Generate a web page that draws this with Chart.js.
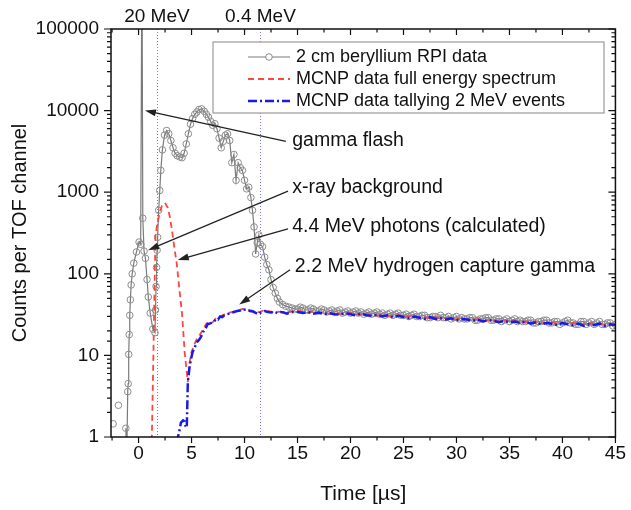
<!DOCTYPE html>
<html>
<head>
<meta charset="utf-8">
<script src="https://cdn.jsdelivr.net/npm/chart.js@4.4.0/dist/chart.umd.min.js"></script>
<style>
  body { margin: 0; background: #fff; }
  #c { display: block; }
</style>
</head>
<body>
<canvas id="c" width="631" height="510"></canvas>
<script>
// tail of the MCNP spectra, time grid (µs)
const tailTime = [
  15, 15.5, 16, 16.5, 17, 17.5, 18, 18.5, 19, 19.5,
  20, 20.5, 21, 21.5, 22, 22.5, 23, 23.5, 24, 24.5,
  25, 25.5, 26, 26.5, 27, 27.5, 28, 28.5, 29, 29.5,
  30, 30.5, 31, 31.5, 32, 32.5, 33, 33.5, 34, 34.5,
  35, 35.5, 36, 36.5, 37, 37.5, 38, 38.5, 39, 39.5,
  40, 40.5, 41, 41.5, 42, 42.5, 43, 43.5, 44, 44.5,
  45
];

// 2 cm beryllium RPI data
const beEarlyTime = [
  -2.4, -2.15, -1.9, -1.55, -1.2, -1.12, -1.02, -0.98, -0.93, -0.88,
  -0.83, -0.77, -0.7, -0.6, -0.45, -0.2, 0.05, 0.2, 0.32, 0.4,
  0.52, 0.65, 0.8, 0.92, 1.1, 1.35, 1.55, 1.6, 1.65, 1.7,
  1.75, 1.8, 1.9, 2.0, 2.1, 2.25, 2.45, 2.65, 2.85, 3.05,
  3.25, 3.45, 3.65, 3.9, 4.1, 4.3, 4.5, 4.7, 4.9, 5.1,
  5.3, 5.5, 5.7, 5.95, 6.2, 6.4, 6.6, 6.8, 7.0, 7.2,
  7.4, 7.6, 7.8, 8.0, 8.2, 8.4, 8.6, 8.8, 9.0, 9.2,
  9.4, 9.6, 9.8, 10.0, 10.2, 10.4, 10.6, 10.75, 10.9, 11.05,
  11.2, 11.35, 11.5, 11.7, 11.9, 12.1, 12.3, 12.5, 12.7, 12.9,
  13.1, 13.3, 13.6, 13.9, 14.2, 14.5, 14.8
];
const beEarlyCounts = [
  1.45, null, 2.45, null, 1.28, 0.5, 3.6, 4.5, 10.3, 18,
  31, 48, 73, 100, 135, 185, 245, 230, 1000000, 480,
  190, 155, 85, 52, 33, 21, 19, 36, 70, 120,
  195, 280, 600, 1050, 1850, 3300, 5000, 5700, 5200, 4300,
  3500, 3000, 2800, 2700, 2650, 3000, 3900, 5200, 6800, 8000,
  9000, 9600, 10300, 10500, 9800, 9000, 8300, 7400, 6600, 6900,
  6000, 4600, 3500, 4200, 5000, 5200, 4300, 2300, 2900, 1400,
  2300, 2000, 1850, 1400, 1100, 1150, 860, 600, 375, 175,
  240, 300, 230, 215, 160, 130, 112, 85, 68, 58,
  50, 45, 42, 40, 39, 38, 37
];
const beTailTime = [
  15, 15.25, 15.5, 15.75, 16, 16.25, 16.5, 16.75, 17, 17.25,
  17.5, 17.75, 18, 18.25, 18.5, 18.75, 19, 19.25, 19.5, 19.75,
  20, 20.25, 20.5, 20.75, 21, 21.25, 21.5, 21.75, 22, 22.25,
  22.5, 22.75, 23, 23.25, 23.5, 23.75, 24, 24.25, 24.5, 24.75,
  25, 25.25, 25.5, 25.75, 26, 26.25, 26.5, 26.75, 27, 27.25,
  27.5, 27.75, 28, 28.25, 28.5, 28.75, 29, 29.25, 29.5, 29.75,
  30, 30.25, 30.5, 30.75, 31, 31.25, 31.5, 31.75, 32, 32.25,
  32.5, 32.75, 33, 33.25, 33.5, 33.75, 34, 34.25, 34.5, 34.75,
  35, 35.25, 35.5, 35.75, 36, 36.25, 36.5, 36.75, 37, 37.25,
  37.5, 37.75, 38, 38.25, 38.5, 38.75, 39, 39.25, 39.5, 39.75,
  40, 40.25, 40.5, 40.75, 41, 41.25, 41.5, 41.75, 42, 42.25,
  42.5, 42.75, 43, 43.25, 43.5, 43.75, 44, 44.25, 44.5, 44.75,
  45
];
const beTailCounts = [
  37, 39, 38, 36, 36, 38, 37, 35, 35, 37,
  36, 34, 35, 36, 34, 35, 36, 33, 34, 35,
  33, 34, 35, 33, 34, 32, 33, 34, 32, 33,
  34, 32, 33, 31, 32, 33, 31, 32, 33, 31,
  31, 32, 30, 31, 32, 30, 30, 31, 31, 29,
  29, 30, 30, 29, 31, 29, 29, 30, 28, 29,
  30, 28, 29, 28, 28, 29, 29, 27, 27, 28,
  28, 29, 29, 27, 27, 28, 28, 26, 27, 28,
  26, 27, 28, 26, 27, 26, 26, 27, 27, 25,
  25, 26, 26, 27, 27, 25, 25, 26, 26, 24,
  25, 26, 27, 25, 25, 24, 24, 26, 26, 24,
  25, 26, 24, 25, 26, 24, 24, 25, 25, 23,
  24
];

// MCNP data full energy spectrum
const fullEarlyTime = [
  1.25, 1.4, 1.5, 1.6, 1.8, 2.0, 2.2, 2.5, 2.75, 2.95,
  3.15, 3.4, 3.6, 3.85, 4.1, 4.35, 4.65, 4.8, 5.0, 5.2,
  5.5, 5.8, 6.1, 6.4, 6.7, 7.0, 7.3, 7.6, 7.9, 8.2,
  8.6, 9.0, 9.4, 9.8, 10.2, 10.6, 11.0, 11.4, 11.8, 12.2,
  12.6, 13.0, 13.5, 14.0, 14.5
];
const fullEarlyCounts = [
  0.9, 10, 60, 300, 430, 560, 680, 740, 650, 500,
  345, 200, 135, 65, 33, 11, 4.7, 8, 11, 13,
  16, 18, 21, 24.5, 26, 25.5, 28.5, 29, 31, 32,
  33.5, 34.5, 35.5, 37, 36.5, 35.5, 34.5, 34, 35.5, 35,
  34, 34.5, 34, 33.5, 34.5
];
const fullTailCounts = [
  35, 34, 33.5, 34.5, 33, 33.5, 32.5, 33.5, 32, 32.5,
  33, 31.5, 32, 32.5, 31, 30.5, 31.5, 30.5, 30, 31,
  29.5, 30, 30.5, 29, 29.5, 28.5, 29.5, 28, 29, 28,
  27.5, 28.5, 27.5, 27, 28, 26.5, 27, 26.5, 26, 27,
  25.5, 26.5, 25.5, 26, 25, 26, 25, 24.5, 25.5, 24.5,
  25, 24, 25, 24.5, 24, 25, 24, 24.5, 23.5, 24.5,
  24
];

// MCNP data tallying 2 MeV events
const tallyEarlyTime = [
  3.55, 3.8, 4.0, 4.2, 4.35, 4.45, 4.55, 4.65, 4.8, 4.95,
  5.1, 5.3, 5.5, 5.7, 5.9, 6.1, 6.3, 6.5, 6.7, 6.9,
  7.1, 7.3, 7.5, 7.7, 7.9, 8.1, 8.4, 8.7, 9.0, 9.3,
  9.6, 9.9, 10.2, 10.5, 10.8, 11.1, 11.3, 11.6, 11.9, 12.2,
  12.5, 12.8, 13.1, 13.4, 13.7, 14.0, 14.5
];
const tallyEarlyCounts = [
  0.85, 1.1, 1.5, 1.6, 1.55, 1.35, 1.3, 4.7, 7, 9,
  11, 12.5, 14.5, 15.5, 17, 19.5, 21, 24, 24.5, 25,
  25.5, 28, 27.5, 30, 29.5, 31, 32, 33, 34, 35,
  35.5, 36.5, 36, 35, 34.5, 33, 32, 34, 35, 34,
  33.5, 34.5, 33, 34, 33.5, 32.5, 34
];
const tallyTailCounts = [
  34, 33, 34, 32.5, 33.5, 32, 33, 32, 31.5, 33,
  32, 31, 32.5, 31, 30.5, 31.5, 30, 31, 29.5, 30.5,
  29.5, 28.5, 30, 29, 28, 29.5, 28, 28.5, 27.5, 28.5,
  27, 28, 27.5, 26.5, 27.5, 26, 27, 26.5, 25.5, 26.5,
  25.5, 26, 25, 26, 24.5, 25.5, 24, 25, 24.5, 23.5,
  25, 24, 23.5, 24.5, 23, 24, 23.5, 24.5, 23, 24,
  23.5
];

const seriesNames = [
  '2 cm beryllium RPI data',
  'MCNP data full energy spectrum',
  'MCNP data tallying 2 MeV events'
];

// energy markers on the time axis (µs)
const energyLines = [1.73, 11.5];
const energyLabels = ['20 MeV', '0.4 MeV'];

// arrow annotations, anchors in data units
const notes = [
  { text: 'gamma flash',                    tx: 14.5, ty: 4300, from: [13.9, 4200], to: [0.6, 10000] },
  { text: 'x-ray background',               tx: 14.5, ty: 1150, from: [14.1, 1030], to: [0.9, 195] },
  { text: '4.4 MeV photons (calculated)',   tx: 14.5, ty: 374,  from: [14.1, 355],  to: [3.7, 148] },
  { text: '2.2 MeV hydrogen capture gamma', tx: 14.75, ty: 122, from: [14.3, 112],  to: [9.5, 42] }
];

const FONT = "'Liberation Sans', Arial, Helvetica, sans-serif";
const GRAY = '#7a7a7a';
const RED = 'rgb(255,70,60)';
const BLUE = 'rgb(25,25,235)';

function pts(t, c) {
  return t.map((x, i) => ({ x: x, y: c[i] }));
}

function isDecade(v) {
  const e = Math.round(Math.log10(v));
  return Math.abs(v - Math.pow(10, e)) < 1e-6 * v;
}

const decor = {
  id: 'decor',
  beforeDatasetsDraw(chart) {
    const ctx = chart.ctx, ca = chart.chartArea, xs = chart.scales.x;
    ctx.save();
    ctx.strokeStyle = 'rgb(120,120,255)';
    ctx.lineWidth = 1;
    ctx.setLineDash([1, 2]);
    energyLines.forEach(v => {
      const px = Math.round(xs.getPixelForValue(v)) + 0.5;
      ctx.beginPath();
      ctx.moveTo(px, ca.top);
      ctx.lineTo(px, ca.bottom);
      ctx.stroke();
    });
    ctx.restore();
  },
  afterDraw(chart) {
    const ctx = chart.ctx, ca = chart.chartArea;
    const xs = chart.scales.x, ys = chart.scales.y;
    ctx.save();

    // frame
    ctx.strokeStyle = '#111';
    ctx.lineWidth = 1.5;
    ctx.strokeRect(ca.left, ca.top, ca.right - ca.left, ca.bottom - ca.top);

    // ticks: bottom/left outward, top/right inward
    ctx.lineWidth = 1.2;
    ctx.beginPath();
    xs.ticks.forEach(t => {
      const px = xs.getPixelForValue(t.value);
      const len = Math.abs(t.value % 5) < 1e-6 ? 6 : 3.5;
      ctx.moveTo(px, ca.bottom); ctx.lineTo(px, ca.bottom + len);
      ctx.moveTo(px, ca.top); ctx.lineTo(px, ca.top + len);
    });
    ys.ticks.forEach(t => {
      const py = ys.getPixelForValue(t.value);
      const len = isDecade(t.value) ? 7 : 4;
      ctx.moveTo(ca.left, py); ctx.lineTo(ca.left - len, py);
      ctx.moveTo(ca.right, py); ctx.lineTo(ca.right - len, py);
    });
    ctx.stroke();

    // energy labels above the plot
    ctx.fillStyle = '#111';
    ctx.font = '19px ' + FONT;
    ctx.textAlign = 'center';
    ctx.textBaseline = 'middle';
    energyLines.forEach((v, i) => {
      ctx.fillText(energyLabels[i], xs.getPixelForValue(v), ca.top - 12);
    });

    // arrows and notes
    ctx.textAlign = 'left';
    ctx.font = '19.5px ' + FONT;
    ctx.strokeStyle = '#222';
    ctx.fillStyle = '#222';
    ctx.lineWidth = 1.3;
    notes.forEach(n => {
      const x0 = xs.getPixelForValue(n.from[0]), y0 = ys.getPixelForValue(n.from[1]);
      const x1 = xs.getPixelForValue(n.to[0]), y1 = ys.getPixelForValue(n.to[1]);
      const a = Math.atan2(y1 - y0, x1 - x0);
      const hl = 11, hw = 3.5;
      ctx.beginPath();
      ctx.moveTo(x0, y0);
      ctx.lineTo(x1 - Math.cos(a) * hl * 0.8, y1 - Math.sin(a) * hl * 0.8);
      ctx.stroke();
      ctx.beginPath();
      ctx.moveTo(x1, y1);
      ctx.lineTo(x1 - Math.cos(a) * hl - Math.sin(a) * hw, y1 - Math.sin(a) * hl + Math.cos(a) * hw);
      ctx.lineTo(x1 - Math.cos(a) * hl + Math.sin(a) * hw, y1 - Math.sin(a) * hl - Math.cos(a) * hw);
      ctx.closePath();
      ctx.fill();
      ctx.fillStyle = '#111';
      ctx.fillText(n.text, xs.getPixelForValue(n.tx), ys.getPixelForValue(n.ty));
      ctx.fillStyle = '#222';
    });

    // legend box
    const bx = ca.left + 102, by = ca.top + 13, bw = 391, bh = 71;
    ctx.fillStyle = '#fff';
    ctx.fillRect(bx, by, bw, bh);
    ctx.strokeStyle = '#9a9a9a';
    ctx.lineWidth = 1.2;
    ctx.strokeRect(bx, by, bw, bh);
    const sx0 = bx + 35, sx1 = bx + 77;
    ctx.font = '18px ' + FONT;
    ctx.textBaseline = 'middle';
    chart.data.datasets.forEach((ds, i) => {
      const ry = by + 15 + i * 22;
      ctx.save();
      ctx.strokeStyle = ds.borderColor;
      ctx.lineWidth = ds.borderWidth;
      ctx.setLineDash(ds.borderDash || []);
      ctx.beginPath();
      ctx.moveTo(sx0, ry);
      ctx.lineTo(sx1, ry);
      ctx.stroke();
      if (ds.pointRadius > 0) {
        ctx.setLineDash([]);
        ctx.fillStyle = '#fff';
        ctx.strokeStyle = ds.pointBorderColor;
        ctx.lineWidth = 1;
        ctx.beginPath();
        ctx.arc((sx0 + sx1) / 2, ry, ds.pointRadius, 0, Math.PI * 2);
        ctx.fill();
        ctx.stroke();
      }
      ctx.restore();
      ctx.fillStyle = '#111';
      ctx.fillText(ds.label, bx + 83, ry);
    });

    ctx.restore();
  }
};

new Chart(document.getElementById('c'), {
  type: 'line',
  data: {
    datasets: [
      {
        label: seriesNames[0],
        data: pts(beEarlyTime.concat(beTailTime), beEarlyCounts.concat(beTailCounts)),
        borderColor: GRAY,
        borderWidth: 1.2,
        pointRadius: 3.3,
        pointBorderColor: '#8c8c8c',
        pointBackgroundColor: 'rgba(255,255,255,0)',
        pointBorderWidth: 1,
        tension: 0,
        order: 3
      },
      {
        label: seriesNames[1],
        data: pts(fullEarlyTime.concat(tailTime), fullEarlyCounts.concat(fullTailCounts)),
        borderColor: RED,
        borderWidth: 1.8,
        borderDash: [6, 4],
        pointRadius: 0,
        tension: 0,
        order: 2
      },
      {
        label: seriesNames[2],
        data: pts(tallyEarlyTime.concat(tailTime), tallyEarlyCounts.concat(tallyTailCounts)),
        borderColor: BLUE,
        borderWidth: 2.5,
        borderDash: [9, 3, 2, 3],
        pointRadius: 0,
        tension: 0,
        order: 1
      }
    ]
  },
  options: {
    responsive: false,
    animation: false,
    devicePixelRatio: 1,
    spanGaps: false,
    layout: { padding: { top: 29, right: 11, left: 0, bottom: 0 } },
    plugins: {
      legend: { display: false },
      tooltip: { enabled: false }
    },
    scales: {
      x: {
        type: 'linear',
        min: -2.6,
        max: 45,
        afterFit: s => { s.height = 73; },
        grid: { display: false, drawTicks: false },
        border: { display: false },
        ticks: {
          stepSize: 2.5,
          includeBounds: false,
          autoSkip: false,
          maxRotation: 0,
          padding: 5,
          color: '#111',
          font: { family: FONT, size: 19 },
          callback: v => (Math.abs(v % 5) < 1e-6 ? String(v) : '')
        },
        title: {
          display: true,
          text: 'Time [µs]',
          color: '#111',
          font: { family: FONT, size: 21 },
          padding: { top: 0, bottom: 3 }
        }
      },
      y: {
        type: 'logarithmic',
        min: 1,
        max: 100000,
        afterFit: s => { s.width = 111; },
        grid: { display: false, drawTicks: false },
        border: { display: false },
        ticks: {
          autoSkip: false,
          padding: 12,
          color: '#111',
          font: { family: FONT, size: 19 },
          callback: v => (isDecade(v) ? String(Math.round(v)) : '')
        },
        title: {
          display: true,
          text: 'Counts per TOF channel',
          color: '#111',
          font: { family: FONT, size: 20 },
          padding: { top: 8, bottom: 0 }
        }
      }
    }
  },
  plugins: [decor]
});
</script>
</body>
</html>
